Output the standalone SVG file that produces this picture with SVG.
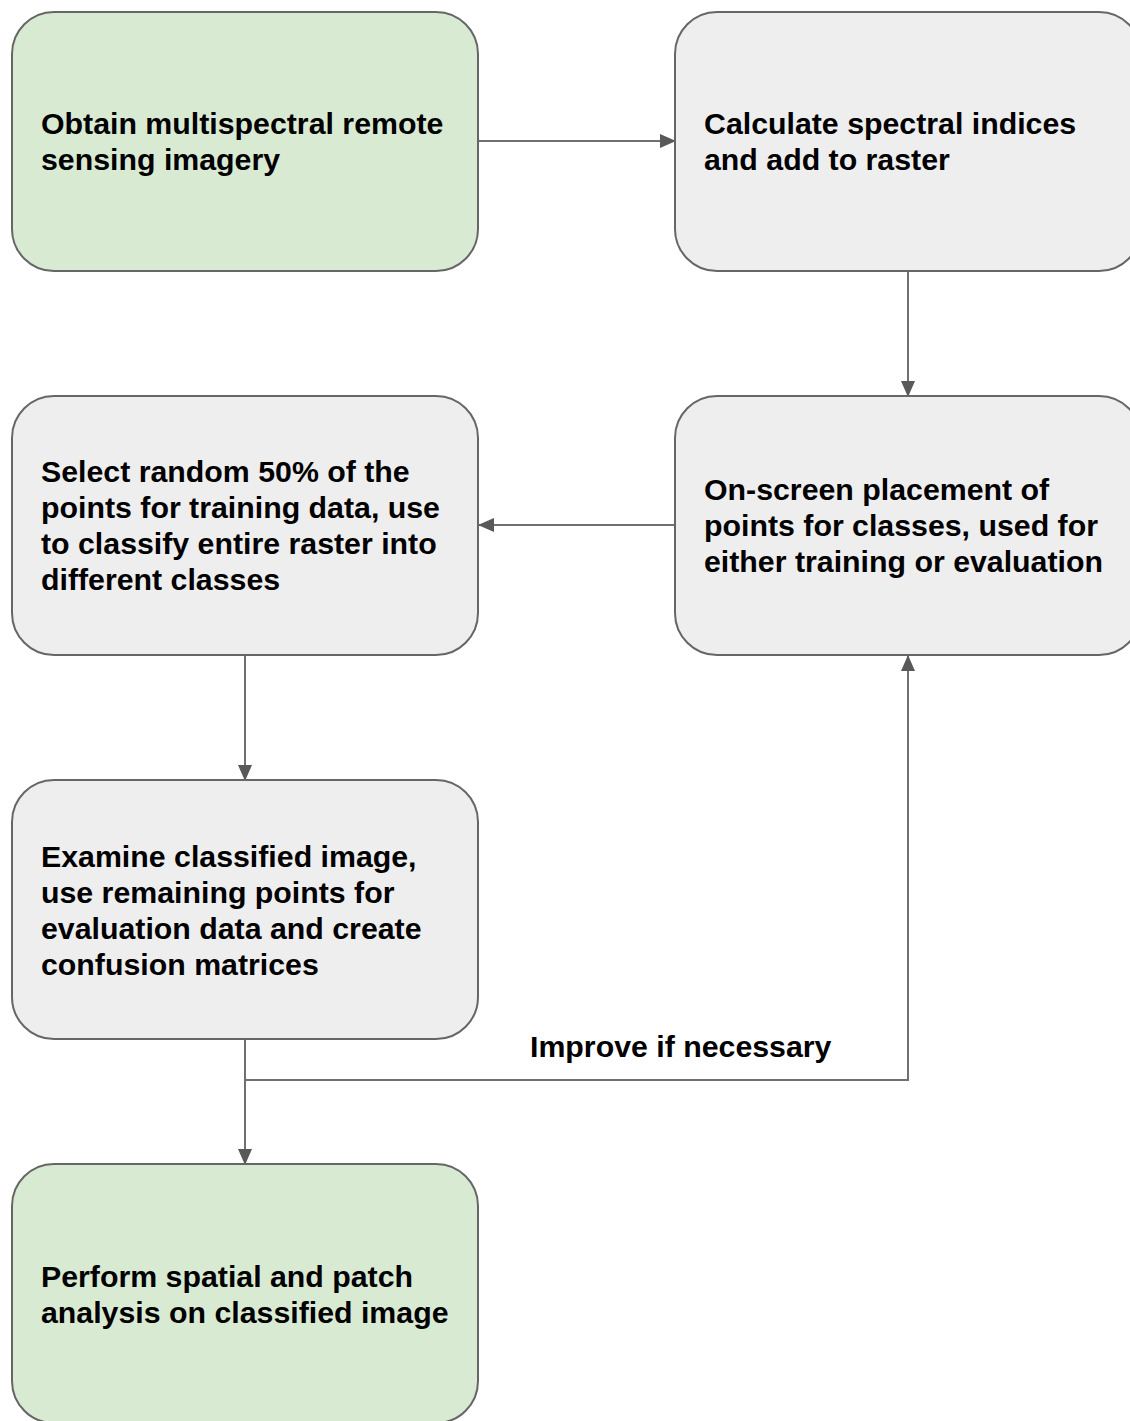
<svg xmlns="http://www.w3.org/2000/svg" width="1130" height="1421" viewBox="0 0 1130 1421">
<style>
.box{stroke:#666666;stroke-width:2}
.green{fill:#d9ead3}
.gray{fill:#eeeeee}
.t{font-family:"Liberation Sans",Arial,sans-serif;font-weight:bold;font-size:30.3px;fill:#000}
.c{fill:none;stroke:#707070;stroke-width:2}
</style>
<defs>
<marker id="ah" markerWidth="8" markerHeight="7" refX="7.5" refY="3.5" orient="auto" markerUnits="strokeWidth">
<path d="M0,0 L8,3.5 L0,7 Z" fill="#595959"/>
</marker>
</defs>
<rect width="1130" height="1421" fill="#ffffff"/>
<g id="connectors">
<path class="c" d="M478,141 H675" marker-end="url(#ah)"/>
<path class="c" d="M908,271 V396" marker-end="url(#ah)"/>
<path class="c" d="M675,525 H479" marker-end="url(#ah)"/>
<path class="c" d="M245,655 V780" marker-end="url(#ah)"/>
<path class="c" d="M245,1039 V1164" marker-end="url(#ah)"/>
<path class="c" d="M245,1080 H908 V656" marker-end="url(#ah)"/>
<text class="t" x="530" y="1057">Improve if necessary</text>
</g>
<g id="n1">
<rect class="box green" x="12" y="12" width="466" height="259" rx="42"/>
<text class="t" x="41" y="134">Obtain multispectral remote</text>
<text class="t" x="41" y="170">sensing imagery</text>
</g>
<g id="n2">
<rect class="box gray" x="675" y="12" width="466" height="259" rx="42"/>
<text class="t" x="704" y="134">Calculate spectral indices</text>
<text class="t" x="704" y="170">and add to raster</text>
</g>
<g id="n3">
<rect class="box gray" x="675" y="396" width="466" height="259" rx="42"/>
<text class="t" x="704" y="500">On-screen placement of</text>
<text class="t" x="704" y="536">points for classes, used for</text>
<text class="t" x="704" y="572">either training or evaluation</text>
</g>
<g id="n4">
<rect class="box gray" x="12" y="396" width="466" height="259" rx="42"/>
<text class="t" x="41" y="482">Select random 50% of the</text>
<text class="t" x="41" y="518">points for training data, use</text>
<text class="t" x="41" y="554">to classify entire raster into</text>
<text class="t" x="41" y="590">different classes</text>
</g>
<g id="n5">
<rect class="box gray" x="12" y="780" width="466" height="259" rx="42"/>
<text class="t" x="41" y="867">Examine classified image,</text>
<text class="t" x="41" y="903">use remaining points for</text>
<text class="t" x="41" y="939">evaluation data and create</text>
<text class="t" x="41" y="975">confusion matrices</text>
</g>
<g id="n6">
<rect class="box green" x="12" y="1164" width="466" height="259" rx="42"/>
<text class="t" x="41" y="1287">Perform spatial and patch</text>
<text class="t" x="41" y="1323">analysis on classified image</text>
</g>
</svg>
